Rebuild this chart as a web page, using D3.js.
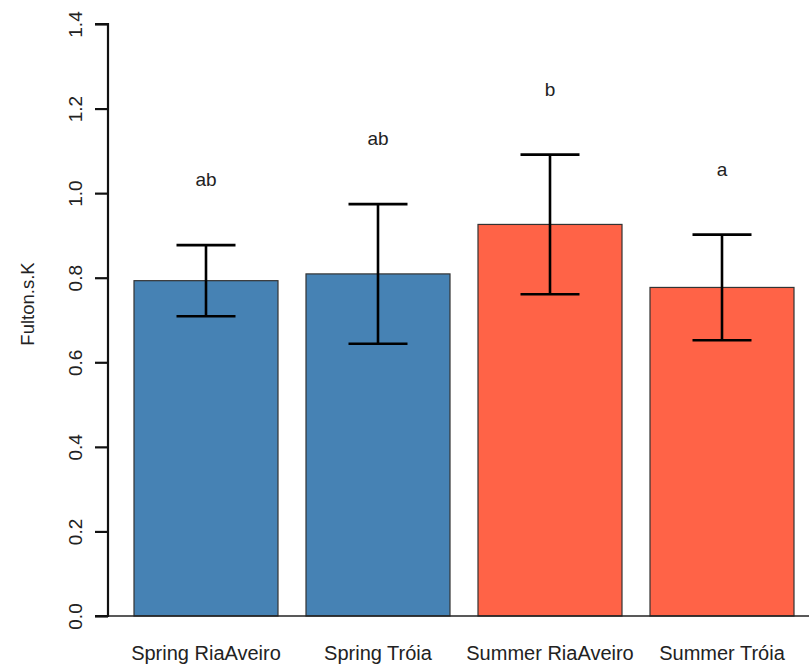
<!DOCTYPE html>
<html>
<head>
<meta charset="utf-8">
<script src="https://cdn.jsdelivr.net/npm/d3@7"></script>
<style>
  html, body { margin: 0; padding: 0; background: #fff; }
  svg { display: block; font-family: "Liberation Sans", Arial, sans-serif; }
</style>
</head>
<body>
<svg id="chart" width="809" height="664"></svg>
<script>
// Fulton's condition factor K by season and site (mean ± error)
const groups = ["Spring RiaAveiro", "Spring Tróia", "Summer RiaAveiro", "Summer Tróia"];
const means  = [0.793, 0.809, 0.926, 0.777];
const errs   = [0.084, 0.165, 0.165, 0.125];
const letters = ["ab", "ab", "b", "a"];
const colors = ["#4682B4", "#4682B4", "#FF6347", "#FF6347"];
const yTicks = [0, 0.2, 0.4, 0.6, 0.8, 1.0, 1.2, 1.4];
const letterOffset = 0.155;

const svg = d3.select("#chart");
const axisX = 108, y0 = 616, y1 = 24;

const y = d3.scaleLinear().domain([0, 1.4]).range([y0, y1]);
const x = d3.scaleBand().domain(groups).range([134, 794])
  .paddingInner(28 / 172).paddingOuter(0);

// bars
svg.append("g").selectAll("rect").data(groups).join("rect")
  .attr("x", d => x(d))
  .attr("y", (d, i) => y(means[i]))
  .attr("width", x.bandwidth())
  .attr("height", (d, i) => y(0) - y(means[i]))
  .attr("fill", (d, i) => colors[i])
  .attr("stroke", "#333")
  .attr("stroke-width", 1.2);

// baseline
svg.append("line")
  .attr("x1", axisX).attr("x2", 809)
  .attr("y1", y0).attr("y2", y0)
  .attr("stroke", "#222").attr("stroke-width", 1.5);

// error bars
const capHalf = 29.5;
const eb = svg.append("g").attr("stroke", "#000").attr("stroke-width", 2.6).attr("fill", "none");
groups.forEach((g, i) => {
  const cx = x(g) + x.bandwidth() / 2;
  const hi = y(means[i] + errs[i]), lo = y(means[i] - errs[i]);
  eb.append("line").attr("x1", cx).attr("x2", cx).attr("y1", hi).attr("y2", lo);
  eb.append("line").attr("x1", cx - capHalf).attr("x2", cx + capHalf).attr("y1", hi).attr("y2", hi);
  eb.append("line").attr("x1", cx - capHalf).attr("x2", cx + capHalf).attr("y1", lo).attr("y2", lo);
});

// significance letters
svg.append("g").selectAll("text").data(groups).join("text")
  .attr("x", d => x(d) + x.bandwidth() / 2)
  .attr("y", (d, i) => y(means[i] + errs[i] + letterOffset))
  .attr("dy", "0.35em")
  .attr("text-anchor", "middle")
  .attr("font-size", 19)
  .attr("fill", "#222")
  .text((d, i) => letters[i]);

// y axis
const yAxis = d3.axisLeft(y).tickValues(yTicks).tickFormat(d3.format(".1f")).tickSize(13).tickPadding(0);
const ya = svg.append("g").attr("transform", `translate(${axisX},0)`).call(yAxis);
ya.select(".domain").attr("stroke", "#111").attr("stroke-width", 2.2)
  .attr("d", `M-13,${y1}H0V${y0}H-13`);
ya.selectAll(".tick line").attr("stroke", "#111").attr("stroke-width", 2.2);
ya.selectAll(".tick text")
  .attr("transform", "rotate(-90)")
  .attr("x", 0).attr("y", -33)
  .attr("dy", "0.35em")
  .attr("text-anchor", "middle")
  .attr("font-size", 19)
  .attr("font-family", "Liberation Sans, Arial, sans-serif")
  .attr("fill", "#222");

// y axis title
svg.append("text")
  .attr("transform", `translate(28,304) rotate(-90)`)
  .attr("dy", "0.35em")
  .attr("text-anchor", "middle")
  .attr("font-size", 18.5)
  .attr("fill", "#222")
  .text("Fulton.s.K");

// category labels
svg.append("g").selectAll("text").data(groups).join("text")
  .attr("x", d => x(d) + x.bandwidth() / 2)
  .attr("y", 660)
  .attr("text-anchor", "middle")
  .attr("font-size", 20)
  .attr("fill", "#222")
  .text(d => d);
</script>
</body>
</html>
